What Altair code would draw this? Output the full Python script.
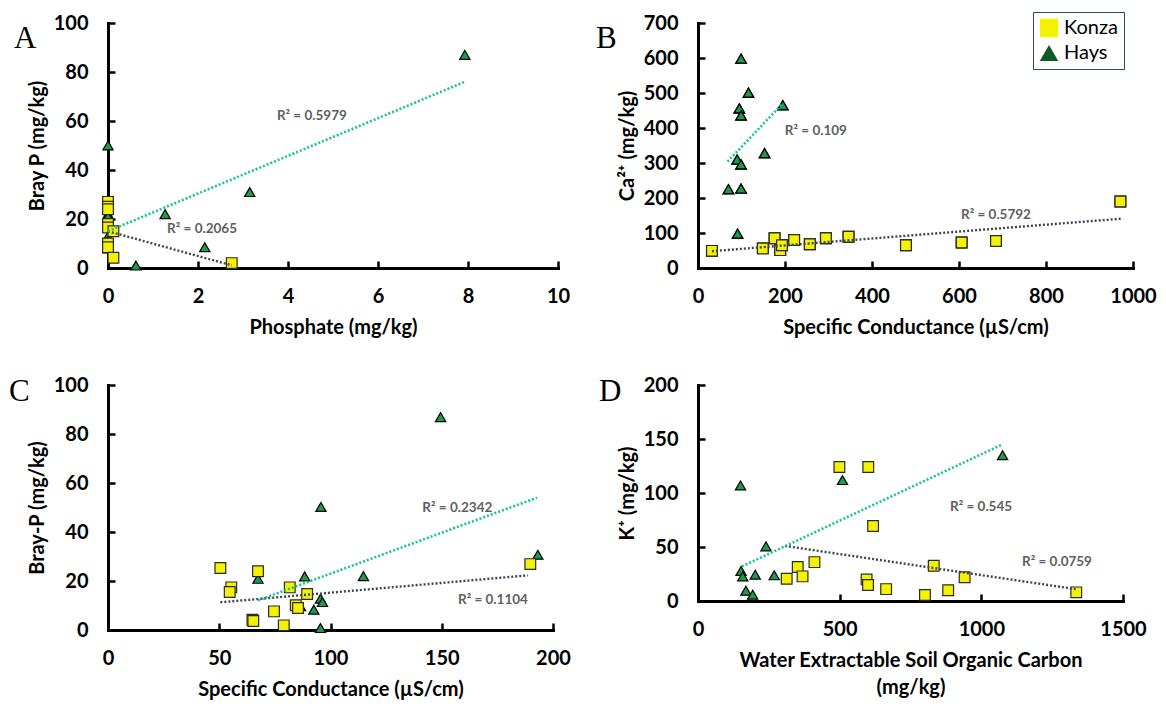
import altair as alt
import pandas as pd

FONT = "Lato"
YELLOW = "#F5F200"
GREEN = "#1E9A4C"
LEG_GREEN = "#0D5A22"
TREND_GREEN = "#17C48F"
TREND_GRAY = "#3E4550"
R2_GRAY = "#5F5F5F"

# ---------------- Panel A : Bray P vs Phosphate ----------------
a_konza_x = [0, 0, 0, 0, 0, 0.12, 0, 0, 0.12, 2.75]
a_konza_y = [27, 25, 24, 18, 16.5, 15, 10, 8.5, 4.2, 2]
a_hays_x = [7.93, 3.15, 1.27, 2.15, 0.62, 0, 0, 0, 0, 0, 0]
a_hays_y = [87, 31, 22, 8.5, 1, 50, 22, 21, 13, 11, 8]
a_trend_konza_x = [0, 2.75]
a_trend_konza_y = [15, 1.1]
a_trend_hays_x = [0, 7.93]
a_trend_hays_y = [15, 76]
a_r2_text = ["R² = 0.2065", "R² = 0.5979"]
a_xticks = [0, 2, 4, 6, 8, 10]
a_yticks = [0, 20, 40, 60, 80, 100]

# ---------------- Panel B : Ca2+ vs Specific Conductance ----------------
b_konza_x = [32, 149, 176, 189, 193, 221, 257, 294, 346, 478, 606, 685, 971]
b_konza_y = [49, 56, 85, 51, 65, 80, 68, 85, 89.5, 65, 73, 77, 190]
b_hays_x = [99, 116, 95, 99, 195, 153, 90, 99, 70, 99, 91]
b_hays_y = [598, 501, 456, 436, 465, 328, 310, 296, 225, 227, 98]
b_trend_konza_x = [32, 974]
b_trend_konza_y = [48, 141]
b_trend_hays_x = [68, 193]
b_trend_hays_y = [304, 468]
b_r2_text = ["R² = 0.5792", "R² = 0.109"]
b_xticks = [0, 200, 400, 600, 800, 1000]
b_yticks = [0, 100, 200, 300, 400, 500, 600, 700]

# ---------------- Panel C : Bray-P vs Specific Conductance ----------------
c_konza_x = [50.5, 67.4, 55.4, 54.7, 81.7, 89.5, 84.4, 85.4, 74.6, 64.9, 65.3, 79, 189.8]
c_konza_y = [25.3, 24, 17.4, 15.5, 17.4, 14.7, 10.1, 9, 7.6, 4.2, 3.7, 1.9, 26.9]
c_hays_x = [149.5, 95.7, 193.2, 114.8, 67.4, 88.4, 86.5, 95.5, 96.4, 92.5, 95.5]
c_hays_y = [86.9, 50.2, 30.7, 22, 20.9, 21.9, 9.7, 12.8, 11.4, 8.3, 0.8]
c_trend_konza_x = [50.5, 188.7]
c_trend_konza_y = [11.3, 22.3]
c_trend_hays_x = [67.4, 192.8]
c_trend_hays_y = [12.1, 54]
c_r2_text = ["R² = 0.1104", "R² = 0.2342"]
c_xticks = [0, 50, 100, 150, 200]
c_yticks = [0, 20, 40, 60, 80, 100]

# ---------------- Panel D : K+ vs WESOC ----------------
d_konza_x = [499, 601, 618, 411, 352, 369, 313, 832, 941, 595, 600, 664, 883, 801, 1335]
d_konza_y = [124, 124, 69.5, 36, 31.5, 22.8, 20.6, 32.6, 22, 20, 14.8, 11, 10, 5.5, 8]
d_hays_x = [150, 510, 1075, 240, 152, 158, 202, 269, 169, 193]
d_hays_y = [107, 112, 135, 50.6, 27.8, 22.8, 24.4, 23.8, 9.5, 5.8]
d_trend_konza_x = [307, 1333]
d_trend_konza_y = [51, 11]
d_trend_hays_x = [155, 1071]
d_trend_hays_y = [32, 144.6]
d_r2_text = ["R² = 0.0759", "R² = 0.545"]
d_xticks = [0, 500, 1000, 1500]
d_yticks = [0, 50, 100, 150, 200]

# annotation placement (data coordinates of the R² labels: konza, hays)
a_r2_pos = ([2.09, 4.53], [15.9, 62])
b_r2_pos = ([685, 271], [151, 391])
c_r2_pos = ([173, 157], [12.2, 50])
d_r2_pos = ([1267, 999], [36, 87])

SQ_SIZE = 115
TRI_SIZE = 105


def panel(kx, ky, hx, hy, tkx, tky, thx, thy, r2_text, r2_pos,
          xticks, yticks, xtitle, ytitle, w, h, letter, ldx, ldy, legend=False):
    xs = alt.Scale(domain=[xticks[0], xticks[-1]], nice=False, zero=False)
    ys = alt.Scale(domain=[yticks[0], yticks[-1]], nice=False, zero=False)
    # inward ticks via a negative tick size expression
    xaxis = alt.Axis(values=xticks, title=xtitle, ticks=True, tickSize={"expr": "-7"}, format="d",
                     labelFlush=False, labelOverlap=False, grid=False)
    yaxis = alt.Axis(values=yticks, title=ytitle, ticks=True, tickSize={"expr": "-7"}, format="d",
                     labelFlush=False, labelOverlap=False, grid=False)

    def X(f):
        return alt.X(f, type="quantitative", scale=xs, axis=xaxis)

    def Y(f):
        return alt.Y(f, type="quantitative", scale=ys, axis=yaxis)

    konza = pd.DataFrame({"x": kx, "y": ky, "site": "Konza"})
    hays = pd.DataFrame({"x": hx, "y": hy, "site": "Hays"})
    layers = []

    if legend:
        both = pd.concat([konza, hays])
        leg = alt.Legend(title=None, orient="none", legendX=335, legendY=-11,
                         strokeColor="#2B4A5C", fillColor="white", padding=6,
                         symbolSize=340, symbolStrokeColor="black", symbolStrokeWidth=1,
                         symbolOpacity=1, labelFont=FONT, labelFontSize=20,
                         labelColor="black", labelFontWeight="normal",
                         rowPadding=3, labelOffset=5)
        layers.append(alt.Chart(both).mark_point(filled=True, stroke="black", strokeWidth=1.2,
                                                 size=SQ_SIZE, opacity=1).encode(
            x=X("x"), y=Y("y"),
            fill=alt.Fill("site:N", scale=alt.Scale(domain=["Konza", "Hays"], range=[YELLOW, LEG_GREEN]), legend=leg),
            shape=alt.Shape("site:N", scale=alt.Scale(domain=["Konza", "Hays"], range=["square", "triangle-up"]), legend=leg),
        ))

    layers.append(alt.Chart(hays).mark_point(shape="triangle-up", filled=True, fill=GREEN,
                                             stroke="black", strokeWidth=1.2, size=TRI_SIZE, opacity=1).encode(
        x=X("x"), y=Y("y")))
    layers.append(alt.Chart(konza).mark_point(shape="square", filled=True, fill=YELLOW,
                                              stroke="#2a2a2a", strokeWidth=1.2, size=SQ_SIZE, opacity=1).encode(
        x=X("x"), y=Y("y")))

    # trend lines
    tk = pd.DataFrame({"x": tkx, "y": tky})
    th = pd.DataFrame({"x": thx, "y": thy})
    layers.append(alt.Chart(tk).mark_line(color=TREND_GRAY, strokeWidth=2.4, strokeDash=[2, 2]).encode(
        x=X("x"), y=Y("y")))
    layers.append(alt.Chart(th).mark_line(color=TREND_GREEN, strokeWidth=2.6, strokeDash=[2, 2]).encode(
        x=X("x"), y=Y("y")))

    # R² labels
    r2 = pd.DataFrame({"x": r2_pos[0], "y": r2_pos[1], "t": r2_text})
    layers.append(alt.Chart(r2).mark_text(font=FONT, fontSize=13.5, fontWeight="bold", color=R2_GRAY,
                                          align="center", baseline="middle").encode(
        x=X("x"), y=Y("y"), text="t:N"))

    # panel letter
    lt = pd.DataFrame({"t": [letter]})
    layers.append(alt.Chart(lt).mark_text(font="Liberation Serif", fontSize=31, color="black",
                                          align="left", baseline="alphabetic").encode(
        text="t:N", x=alt.value(ldx), y=alt.value(ldy)))

    return alt.layer(*layers).properties(width=w, height=h)


A = panel(a_konza_x, a_konza_y, a_hays_x, a_hays_y, a_trend_konza_x, a_trend_konza_y,
          a_trend_hays_x, a_trend_hays_y, a_r2_text, a_r2_pos, a_xticks, a_yticks,
          "Phosphate (mg/kg)", "Bray P (mg/kg)", 450, 245, "A", -94, 25)
B = panel(b_konza_x, b_konza_y, b_hays_x, b_hays_y, b_trend_konza_x, b_trend_konza_y,
          b_trend_hays_x, b_trend_hays_y, b_r2_text, b_r2_pos, b_xticks, b_yticks,
          "Specific Conductance (µS/cm)", "Ca²⁺ (mg/kg)", 435, 245, "B", -102, 25, legend=True)
C = panel(c_konza_x, c_konza_y, c_hays_x, c_hays_y, c_trend_konza_x, c_trend_konza_y,
          c_trend_hays_x, c_trend_hays_y, c_r2_text, c_r2_pos, c_xticks, c_yticks,
          "Specific Conductance (µS/cm)", "Bray-P (mg/kg)", 445, 245, "C", -99, 16)
D = panel(d_konza_x, d_konza_y, d_hays_x, d_hays_y, d_trend_konza_x, d_trend_konza_y,
          d_trend_hays_x, d_trend_hays_y, d_r2_text, d_r2_pos, d_xticks, d_yticks,
          ["Water Extractable Soil Organic Carbon", "(mg/kg)"], "K⁺ (mg/kg)", 425, 216, "D", -99, 16)

chart = alt.concat(A, B, C, D, columns=2, spacing={"row": 117, "column": 140}, bounds="flush").resolve_legend(
    fill="independent", shape="independent"
).properties(
    padding={"left": 9, "top": 11, "right": 5, "bottom": 5},
    background="white",
).configure_view(stroke=None).configure_axis(
    domainColor="black", domainWidth=3, domainCap="square",
    tickColor="black", tickWidth=2.5,
    labelFont=FONT, labelFontSize=20, labelFontWeight="bold", labelColor="black",
    titleFont=FONT, titleFontSize=20, titleFontWeight="bold", titleColor="black",
).configure_axisX(labelPadding=25, titlePadding=11, titleLineHeight=27).configure_axisY(
    labelPadding=27, titlePadding=6)

chart.save("out.html", embed_options={"renderer": "svg", "actions": False})
